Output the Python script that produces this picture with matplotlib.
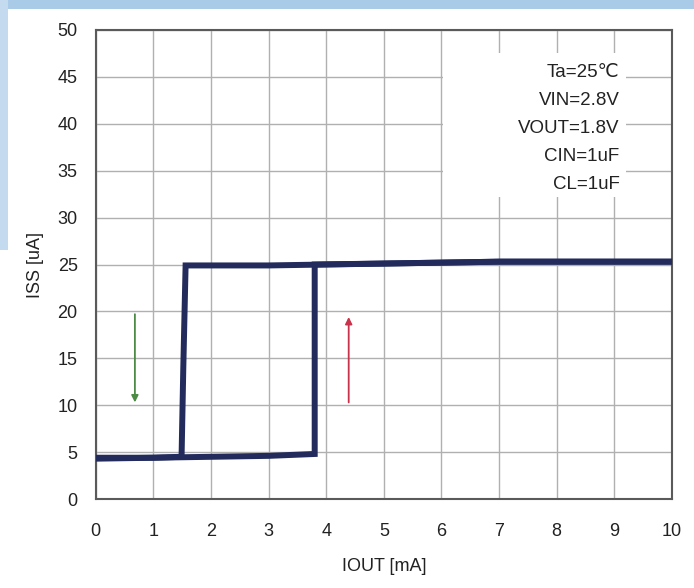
import matplotlib
matplotlib.use('Agg')
import matplotlib.pyplot as plt
from matplotlib.patches import Rectangle

# IOUT [mA] vs ISS [uA], hysteresis loop
UP_X = [0, 1, 2, 3, 3.8, 3.8, 5, 7, 10]
UP_Y = [4.4, 4.4, 4.5, 4.6, 4.8, 25.0, 25.1, 25.3, 25.3]
DOWN_X = [10, 7, 5, 3, 1.56, 1.52, 1.49, 1, 0]
DOWN_Y = [25.3, 25.3, 25.1, 24.9, 24.9, 14.0, 4.5, 4.4, 4.3]

# direction arrows: (x, y_from, y_to)
ARROW_DOWN = (0.68, 20, 10)
ARROW_UP = (4.39, 10, 19.7)

X_TICKS = list(range(0, 11))
Y_TICKS = list(range(0, 51, 5))
CONDITIONS = ['Ta=25\u2103', 'VIN=2.8V', 'VOUT=1.8V', 'CIN=1uF', 'CL=1uF']

LINE_COL = '#222b5c'
GRID_COL = '#b0b0b0'
FRAME_COL = '#5a5a5a'
TEXT_COL = '#222222'

plt.rcParams['font.family'] = ['Liberation Sans', 'DejaVu Sans']

fig = plt.figure(figsize=(6.94, 5.88), dpi=100)
fig.patch.set_facecolor('white')

# light blue slide border (top and upper-left)
fig.patches.append(Rectangle((0, 1 - 9 / 588), 1, 9 / 588, transform=fig.transFigure,
                             facecolor='#a9cbe8', edgecolor='none', zorder=0))
fig.patches.append(Rectangle((0, 1 - 250 / 588), 8 / 694, 250 / 588, transform=fig.transFigure,
                             facecolor='#c4dbef', edgecolor='none', zorder=0))

ax = fig.add_axes([95.7 / 694, 89 / 588, 576.3 / 694, 469 / 588])
ax.set_xlim(0, 10)
ax.set_ylim(0, 50)
ax.set_xticks(X_TICKS)
ax.set_yticks(Y_TICKS)
ax.tick_params(length=0, labelsize=13, colors=TEXT_COL)
ax.tick_params(axis='x', pad=17)
ax.tick_params(axis='y', pad=13)
ax.grid(True, color=GRID_COL, linewidth=1.0)
ax.set_axisbelow(True)
for sp in ax.spines.values():
	sp.set_color(FRAME_COL)
	sp.set_linewidth(1.5)

ax.plot(UP_X, UP_Y, color=LINE_COL, linewidth=4.3, solid_joinstyle='miter', zorder=3)
ax.plot(DOWN_X, DOWN_Y, color=LINE_COL, linewidth=4.3, solid_joinstyle='miter', zorder=3)

ax.annotate('', xy=(ARROW_DOWN[0], ARROW_DOWN[2]), xytext=(ARROW_DOWN[0], ARROW_DOWN[1]),
			arrowprops=dict(arrowstyle='-|>', color='#4d8a45', lw=1.3, mutation_scale=10))
ax.annotate('', xy=(ARROW_UP[0], ARROW_UP[2]), xytext=(ARROW_UP[0], ARROW_UP[1]),
			arrowprops=dict(arrowstyle='-|>', color='#c8324a', lw=1.3, mutation_scale=10))

# white box behind the conditions, hides the grid
ax.add_patch(Rectangle((6.02, 32.2), 3.19, 15.3, facecolor='white', edgecolor='none', zorder=1.5))
for i, s in enumerate(CONDITIONS):
	ax.text(9.09, 45.5 - i * 3.0, s, ha='right', va='center', fontsize=13.5, color=TEXT_COL, zorder=4)

ax.set_xlabel('IOUT [mA]', fontsize=13, color=TEXT_COL, labelpad=13)
ax.set_ylabel('ISS [uA]', fontsize=13, color=TEXT_COL, labelpad=10)

fig.savefig('out.png', dpi=100, facecolor=fig.get_facecolor())
